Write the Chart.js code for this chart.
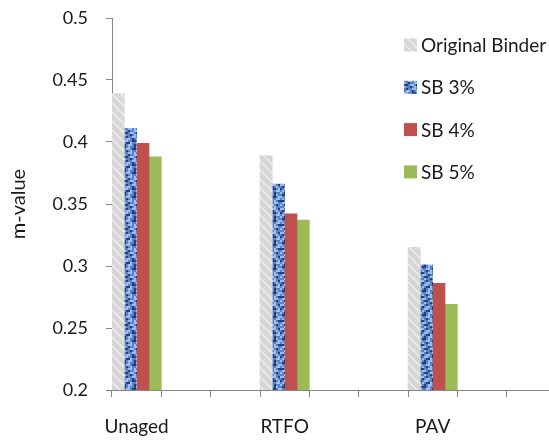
<!DOCTYPE html>
<html>
<head>
<meta charset="utf-8">
<script src="https://cdn.jsdelivr.net/npm/chart.js@4.4.0/dist/chart.umd.min.js"></script>
<style>
html,body{margin:0;padding:0;background:#fff;overflow:hidden;width:549px;height:442px;}
canvas{display:block;}
</style>
</head>
<body>
<canvas id="c" width="560" height="442" style="width:560px;height:442px"></canvas>
<script>
const categories = ["Unaged", "", "", "RTFO", "", "", "PAV", "", ""];
const seriesNames = ["Original Binder", "SB 3%", "SB 4%", "SB 5%"];
const originalBinder = [0.439, null, null, 0.389, null, null, 0.315, null, null];
const sb3 = [0.411, null, null, 0.366, null, null, 0.301, null, null];
const sb4 = [0.399, null, null, 0.342, null, null, 0.286, null, null];
const sb5 = [0.388, null, null, 0.337, null, null, 0.269, null, null];
const yTicks = [0.2, 0.25, 0.3, 0.35, 0.4, 0.45, 0.5];

const FONT = "Lato";

function hatchPattern() {
  const s = 9;
  const cv = document.createElement('canvas');
  cv.width = s; cv.height = s;
  const g = cv.getContext('2d');
  g.fillStyle = '#d6d6d6';
  g.fillRect(0, 0, s, s);
  g.strokeStyle = '#ebebeb';
  g.lineWidth = 1.6;
  g.beginPath();
  g.moveTo(-1, -1); g.lineTo(s + 1, s + 1);
  g.moveTo(-1, s - 1); g.lineTo(1, s + 1);
  g.moveTo(s - 1, -1); g.lineTo(s + 1, 1);
  g.stroke();
  return g.createPattern(cv, 'repeat');
}

function texturePattern() {
  const map = [
    "LMDMLLMDMM",
    "MDDMLMMDLM",
    "LMMLLMDDML",
    "MLMDMLMMLL",
    "DDMMLLMLMD",
    "MLLMDMMLLM",
    "LMDDMLLMDM",
    "MMLMMDMLMM",
    "LLMDMMLLMD",
    "MDMLLMDMLM",
    "DMLLMMDDML",
    "MLMDDLMMLL"
  ];
  const col = { L: '#9dbdec', M: '#5a82c6', D: '#22407e' };
  const px = 2;
  const cv = document.createElement('canvas');
  cv.width = map[0].length * px; cv.height = map.length * px;
  const g = cv.getContext('2d');
  for (let r = 0; r < map.length; r++) {
    for (let c = 0; c < map[r].length; c++) {
      g.fillStyle = col[map[r][c]];
      g.fillRect(c * px, r * px, px, px);
    }
  }
  return g.createPattern(cv, 'repeat');
}

const fills = [hatchPattern(), texturePattern(), '#c0504d', '#9bbb59'];
const seriesData = [originalBinder, sb3, sb4, sb5];

const legendPlugin = {
  id: 'sideLegend',
  afterDraw(chart) {
    const ctx = chart.ctx;
    ctx.save();
    ctx.font = "19px " + FONT;
    ctx.textBaseline = 'middle';
    ctx.textAlign = 'left';
    chart.data.datasets.forEach((ds, i) => {
      const y = 45 + i * 42.3;
      ctx.fillStyle = ds.backgroundColor;
      ctx.fillRect(404, y - 6.5, 13, 13);
      ctx.fillStyle = '#1a1a1a';
      ctx.fillText(ds.label, 421, y + 1);
    });
    ctx.restore();
  }
};

new Chart(document.getElementById('c'), {
  type: 'bar',
  data: {
    labels: categories,
    datasets: seriesNames.map((n, i) => ({
      label: n,
      data: seriesData[i],
      backgroundColor: fills[i],
      borderWidth: 0,
      barPercentage: 1,
      categoryPercentage: 1
    }))
  },
  options: {
    responsive: false,
    animation: false,
    devicePixelRatio: 1,
    layout: { padding: { top: 18, right: 4, left: 0, bottom: 0 } },
    plugins: { legend: { display: false }, tooltip: { enabled: false } },
    scales: {
      x: {
        offset: true,
        grid: { offset: true, drawOnChartArea: false, drawTicks: true, tickLength: 7, color: '#868686' },
        border: { color: '#868686', width: 1 },
        ticks: { autoSkip: false, maxRotation: 0, minRotation: 0, padding: 18, color: '#1a1a1a', font: { family: FONT, size: 19 } },
        afterFit(s) { s.height = 52; s.paddingLeft = 0; s.paddingRight = 0; }
      },
      y: {
        min: 0.2, max: 0.5,
        afterBuildTicks(s) { s.ticks = yTicks.map(v => ({ value: v })); },
        grid: { drawOnChartArea: false, drawTicks: true, tickLength: 6, color: '#868686' },
        border: { color: '#868686', width: 1 },
        ticks: { padding: 18, color: '#1a1a1a', font: { family: FONT, size: 18 }, callback: v => String(+v.toFixed(2)) },
        title: { display: true, text: 'm-value', color: '#1a1a1a', font: { family: FONT, size: 20 }, padding: { top: 7, bottom: 0 } },
        afterFit(s) { s.width = 112; s.paddingTop = 0; s.paddingBottom = 0; }
      }
    }
  },
  plugins: [legendPlugin]
});
</script>
</body>
</html>
